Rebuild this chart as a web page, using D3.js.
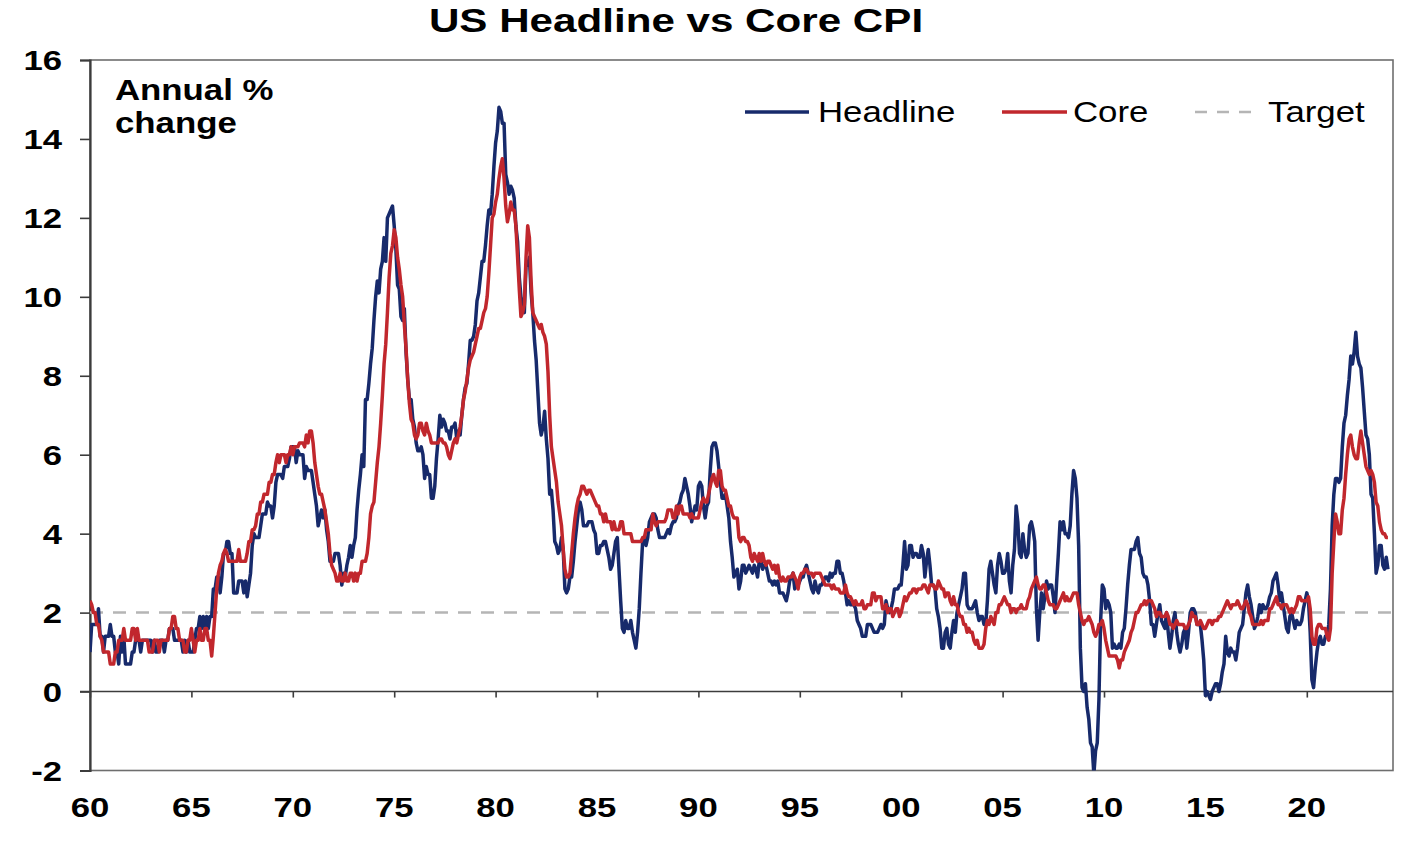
<!DOCTYPE html>
<html>
<head>
<meta charset="utf-8">
<script src="https://cdn.jsdelivr.net/npm/d3@7"></script>
<style>
  html, body { margin: 0; padding: 0; background: #ffffff; }
  svg { display: block; font-family: "Liberation Sans", Arial, sans-serif; }
</style>
</head>
<body>
<svg id="chart" width="1414" height="842"></svg>
<script>
// ---------------- DATA ----------------
const startYear = 1960; // monthly observations from Jan 1960
const chartTitle = "US Headline vs Core CPI";
const unitLabel = ["Annual %", "change"];
const seriesNames = ["Headline", "Core", "Target"];

const headline = [
 1.0,1.7,1.7,1.7,1.7,2.1,1.4,1.4,1.0,1.4,1.4,1.4,
 1.7,1.4,1.4,1.0,1.0,0.7,1.4,1.0,1.4,0.7,0.7,0.7,
 0.7,1.0,1.0,1.3,1.3,1.3,1.0,1.3,1.3,1.3,1.3,1.3,
 1.3,1.0,1.3,1.0,1.0,1.3,1.3,1.3,1.0,1.3,1.3,1.6,
 1.6,1.6,1.3,1.3,1.3,1.3,1.3,1.0,1.3,1.0,1.3,1.0,
 1.0,1.0,1.3,1.6,1.6,1.9,1.6,1.9,1.6,1.9,1.6,1.9,
 1.9,2.6,2.6,2.9,2.9,2.5,2.9,3.5,3.5,3.8,3.8,3.5,
 3.5,2.5,2.5,2.5,2.8,2.8,2.8,2.5,2.8,2.4,2.7,3.0,
 3.7,4.0,3.9,3.9,3.9,4.2,4.5,4.5,4.5,4.8,4.7,4.7,
 4.4,4.7,5.3,5.5,5.5,5.5,5.4,5.7,5.7,5.7,5.9,6.2,
 6.2,6.2,5.8,6.1,6.0,6.0,6.0,5.4,5.7,5.6,5.6,5.6,
 5.3,5.0,4.7,4.2,4.4,4.6,4.4,4.6,4.1,3.8,3.3,3.3,
 3.3,3.5,3.5,3.5,3.2,2.7,3.0,2.9,3.2,3.4,3.7,3.4,
 3.7,3.9,4.6,5.1,5.5,6.0,5.7,7.4,7.4,7.8,8.3,8.7,
 9.4,10.0,10.4,10.1,10.7,10.9,11.5,10.9,12.0,12.1,12.2,12.3,
 11.8,11.2,10.3,10.2,9.5,9.4,9.7,8.6,7.9,7.4,7.4,6.9,
 6.7,6.3,6.1,6.1,6.2,6.0,5.4,5.7,5.5,5.5,4.9,4.9,
 5.2,5.9,6.4,7.0,6.7,6.9,6.8,6.6,6.6,6.4,6.7,6.7,
 6.8,6.4,6.6,6.5,7.0,7.4,7.7,7.8,8.3,8.9,8.9,9.0,
 9.3,9.9,10.1,10.5,10.9,10.9,11.3,11.8,12.2,12.1,12.6,13.3,
 13.9,14.2,14.8,14.7,14.4,14.4,13.1,12.9,12.6,12.8,12.7,12.5,
 11.8,11.4,10.5,10.0,9.8,9.6,10.8,10.8,11.0,10.1,9.6,8.9,
 8.4,7.6,6.8,6.5,6.7,7.1,6.4,5.9,5.0,5.1,4.6,3.8,
 3.7,3.5,3.6,3.9,3.6,2.6,2.5,2.6,2.9,2.9,3.3,3.8,
 4.2,4.6,4.8,4.6,4.2,4.2,4.2,4.3,4.3,4.3,4.1,4.0,
 3.5,3.5,3.7,3.7,3.8,3.8,3.6,3.4,3.1,3.2,3.5,3.8,
 3.9,3.1,2.3,1.6,1.5,1.8,1.6,1.6,1.8,1.5,1.3,1.1,
 1.5,2.1,3.0,3.8,3.9,3.7,3.9,4.3,4.4,4.5,4.5,4.4,
 4.1,3.9,3.9,3.9,3.9,4.0,4.1,4.0,4.2,4.3,4.3,4.4,
 4.7,4.8,5.0,5.1,5.4,5.2,5.0,4.7,4.3,4.5,4.7,4.6,
 5.2,5.3,5.2,4.7,4.4,4.7,4.8,5.6,6.2,6.3,6.3,6.1,
 5.7,5.3,4.9,4.9,5.0,4.7,4.4,3.8,3.4,2.9,3.0,3.1,
 2.6,2.8,3.2,3.2,3.0,3.1,3.2,3.1,3.0,3.2,3.1,2.9,
 3.3,3.3,3.1,3.2,3.2,3.0,2.8,2.8,2.7,2.8,2.7,2.8,
 2.5,2.5,2.5,2.4,2.3,2.5,2.8,2.9,3.0,2.6,2.7,2.7,
 2.8,2.9,2.9,3.1,3.2,3.0,2.8,2.6,2.5,2.8,2.6,2.5,
 2.7,2.7,2.8,2.9,2.9,2.8,3.0,2.9,3.0,3.0,3.3,3.3,
 3.0,3.0,2.8,2.5,2.2,2.3,2.2,2.2,2.2,2.1,1.8,1.7,
 1.6,1.4,1.4,1.4,1.7,1.7,1.7,1.6,1.5,1.5,1.5,1.6,
 1.7,1.6,1.7,2.3,2.1,2.0,2.1,2.3,2.6,2.6,2.6,2.7,
 2.7,3.2,3.8,3.1,3.2,3.7,3.7,3.4,3.5,3.5,3.4,3.4,
 3.7,3.5,2.9,3.3,3.6,3.2,2.7,2.7,2.6,2.1,1.9,1.6,
 1.1,1.1,1.5,1.6,1.2,1.1,1.5,1.8,1.5,2.0,2.2,2.4,
 2.6,3.0,3.0,2.2,2.1,2.1,2.1,2.2,2.3,2.0,1.8,1.9,
 1.9,1.7,1.7,2.3,3.1,3.3,3.0,2.7,2.5,3.2,3.5,3.3,
 3.0,3.0,3.1,3.5,2.8,2.5,3.2,3.6,4.7,4.3,3.5,3.4,
 4.0,3.6,3.4,3.5,4.2,4.3,4.1,3.8,2.1,1.3,2.0,2.5,
 2.1,2.4,2.8,2.6,2.7,2.7,2.4,2.0,2.8,3.5,4.3,4.1,
 4.3,4.0,4.0,3.9,4.2,5.0,5.6,5.4,4.9,3.7,1.1,0.1,
 0.0,0.2,-0.4,-0.7,-1.3,-1.4,-2.1,-1.5,-1.3,-0.2,1.8,2.7,
 2.6,2.1,2.3,2.2,2.0,1.1,1.2,1.1,1.1,1.2,1.1,1.5,
 1.6,2.1,2.7,3.2,3.6,3.6,3.6,3.8,3.9,3.5,3.4,3.0,
 2.9,2.9,2.7,2.3,1.7,1.7,1.4,1.7,2.0,2.2,1.8,1.7,
 1.6,2.0,1.5,1.1,1.4,1.8,2.0,1.5,1.2,1.0,1.2,1.5,
 1.6,1.1,1.5,2.0,2.1,2.1,2.0,1.7,1.7,1.7,1.3,0.8,
 -0.1,0.0,-0.1,-0.2,0.0,0.1,0.2,0.2,0.0,0.2,0.5,0.7,
 1.4,1.0,0.9,1.1,1.0,1.0,0.8,1.1,1.5,1.6,1.7,2.1,
 2.5,2.7,2.4,2.2,1.9,1.6,1.7,1.9,2.2,2.0,2.2,2.1,
 2.1,2.2,2.4,2.5,2.8,2.9,3.0,2.7,2.3,2.5,2.2,1.9,
 1.6,1.5,1.9,2.0,1.8,1.6,1.8,1.7,1.7,1.8,2.1,2.3,
 2.5,2.3,1.5,0.3,0.1,0.6,1.0,1.3,1.4,1.2,1.2,1.4,
 1.4,1.7,2.6,4.2,5.0,5.4,5.4,5.3,5.4,6.2,6.8,7.0,
 7.5,7.9,8.5,8.3,8.6,9.1,8.5,8.3,8.2,7.7,7.1,6.5,
 6.4,6.0,5.0,4.9,4.0,3.0,3.2,3.7,3.7,3.2,3.1,3.4,
 3.1
];

const core = [
 2.3,2.2,2.0,2.0,1.7,1.7,1.4,1.3,1.0,1.0,1.0,1.0,
 0.7,0.7,0.7,1.0,1.0,1.3,1.3,1.3,1.6,1.3,1.3,1.3,
 1.3,1.6,1.6,1.3,1.6,1.3,1.3,1.3,1.3,1.3,1.3,1.0,
 1.0,1.0,1.3,1.3,1.3,1.0,1.3,1.3,1.3,1.3,1.3,1.6,
 1.6,1.9,1.9,1.6,1.6,1.3,1.3,1.3,1.0,1.0,1.3,1.3,
 1.6,1.3,1.0,1.3,1.3,1.6,1.3,1.3,1.6,1.6,1.3,1.3,
 0.9,1.4,2.0,2.6,3.0,3.2,3.3,3.5,3.6,3.5,3.3,3.3,
 3.3,3.3,3.3,3.3,3.6,3.3,3.3,3.3,3.3,3.5,3.8,3.8,
 4.1,4.1,4.2,4.5,4.5,4.8,4.8,5.0,5.0,5.0,5.3,5.3,
 5.5,5.5,5.8,6.0,5.8,6.0,6.0,6.0,5.8,6.0,6.0,6.2,
 6.0,6.2,6.2,6.2,6.3,6.3,6.3,6.2,6.5,6.3,6.6,6.6,
 6.3,5.8,5.5,5.2,5.0,5.0,4.8,4.6,4.3,4.0,3.5,3.2,
 3.1,3.0,2.8,2.8,3.0,2.8,2.8,3.0,2.8,2.8,3.0,3.0,
 2.8,3.0,2.8,3.0,3.0,3.3,3.3,3.3,3.5,3.9,4.5,4.7,
 4.8,5.3,5.8,6.2,6.8,7.5,8.3,8.8,9.6,10.5,11.1,11.3,
 11.7,11.5,11.0,10.7,10.3,10.0,9.3,8.7,7.9,7.3,6.9,6.8,
 6.5,6.4,6.5,6.8,6.8,6.6,6.5,6.8,6.6,6.5,6.3,6.3,
 6.3,6.3,6.3,6.4,6.4,6.3,6.3,6.2,6.0,5.9,6.1,6.3,
 6.4,6.3,6.5,6.7,7.0,7.4,7.6,7.9,8.2,8.4,8.5,8.6,
 8.8,9.0,9.2,9.2,9.4,9.6,9.7,10.0,10.6,11.3,12.0,12.1,
 12.4,12.6,13.0,13.3,13.5,13.0,12.3,11.9,12.1,12.4,12.2,12.2,
 11.8,11.0,10.2,9.5,9.6,9.8,11.0,11.8,11.5,10.4,9.6,9.5,
 9.4,9.3,9.2,9.3,9.1,9.0,8.8,8.1,7.0,6.2,5.9,5.6,
 5.3,4.8,4.5,4.2,3.6,3.1,2.9,2.9,3.0,3.5,4.0,4.4,
 4.7,4.9,5.0,5.2,5.2,5.1,5.0,5.1,5.1,5.0,4.9,4.8,
 4.7,4.7,4.5,4.5,4.3,4.5,4.3,4.3,4.3,4.1,4.3,4.1,
 4.1,4.1,4.3,4.3,4.0,4.0,4.0,4.0,4.0,3.8,3.8,3.8,
 3.8,3.8,3.8,3.9,3.9,4.1,4.1,4.1,4.1,4.5,4.3,4.2,
 4.3,4.3,4.3,4.3,4.3,4.4,4.6,4.6,4.6,4.4,4.4,4.7,
 4.5,4.7,4.7,4.5,4.5,4.5,4.5,4.4,4.5,4.4,4.4,4.4,
 4.4,4.6,4.8,4.9,4.8,4.8,5.0,5.2,5.4,5.5,5.3,5.2,
 5.6,5.6,5.2,5.1,5.1,4.9,4.7,4.7,4.5,4.4,4.4,4.4,
 3.9,3.8,3.9,3.9,3.8,3.8,3.7,3.4,3.3,3.5,3.4,3.3,
 3.5,3.3,3.5,3.3,3.2,3.3,3.3,3.2,3.1,3.2,3.0,3.2,
 2.9,2.8,2.9,2.8,2.8,2.9,2.9,2.9,3.0,2.9,2.8,2.6,
 2.9,3.0,3.0,3.1,3.1,3.0,3.0,3.0,2.9,3.0,3.0,3.0,
 3.0,2.9,2.8,2.7,2.7,2.7,2.7,2.6,2.7,2.6,2.6,2.6,
 2.5,2.5,2.5,2.7,2.5,2.4,2.4,2.3,2.2,2.3,2.2,2.2,
 2.2,2.3,2.1,2.1,2.2,2.2,2.2,2.5,2.5,2.3,2.4,2.4,
 2.4,2.1,2.1,2.2,2.0,2.1,2.1,1.9,2.0,2.1,2.1,1.9,
 2.0,2.2,2.4,2.3,2.4,2.5,2.5,2.6,2.6,2.5,2.6,2.6,
 2.6,2.7,2.7,2.6,2.5,2.7,2.7,2.7,2.6,2.6,2.8,2.7,
 2.6,2.6,2.4,2.5,2.5,2.3,2.2,2.4,2.2,2.2,2.0,1.9,
 1.9,1.7,1.7,1.5,1.6,1.5,1.5,1.3,1.2,1.3,1.1,1.1,
 1.1,1.2,1.6,1.8,1.7,1.9,1.8,1.7,2.0,2.0,2.2,2.2,
 2.3,2.4,2.3,2.2,2.2,2.0,2.1,2.1,2.0,2.1,2.1,2.2,
 2.1,2.1,2.1,2.3,2.4,2.6,2.7,2.8,2.9,2.7,2.6,2.6,
 2.7,2.7,2.5,2.3,2.2,2.2,2.2,2.1,2.1,2.2,2.3,2.4,
 2.5,2.3,2.4,2.3,2.3,2.4,2.5,2.5,2.5,2.2,2.0,1.8,
 1.7,1.8,1.8,1.9,1.8,1.7,1.5,1.4,1.5,1.7,1.7,1.8,
 1.6,1.3,1.1,0.9,0.9,0.9,0.9,0.9,0.8,0.6,0.8,0.8,
 1.0,1.1,1.2,1.3,1.5,1.6,1.8,2.0,2.0,2.1,2.2,2.2,
 2.3,2.2,2.3,2.3,2.3,2.2,2.1,1.9,2.0,2.0,1.9,1.9,
 1.9,2.0,1.9,1.7,1.7,1.6,1.7,1.8,1.7,1.7,1.7,1.7,
 1.6,1.6,1.7,1.8,2.0,1.9,1.9,1.7,1.7,1.8,1.7,1.6,
 1.6,1.7,1.8,1.8,1.7,1.8,1.8,1.8,1.9,1.9,2.0,2.1,
 2.2,2.3,2.2,2.1,2.2,2.2,2.2,2.3,2.2,2.1,2.1,2.2,
 2.3,2.2,2.0,1.9,1.7,1.7,1.7,1.7,1.7,1.8,1.7,1.8,
 1.8,1.8,2.1,2.1,2.2,2.3,2.4,2.2,2.2,2.1,2.2,2.2,
 2.2,2.1,2.0,2.1,2.0,2.1,2.2,2.4,2.4,2.3,2.3,2.3,
 2.3,2.4,2.1,1.4,1.2,1.2,1.6,1.7,1.7,1.6,1.6,1.6,
 1.4,1.3,1.6,3.0,3.8,4.5,4.3,4.0,4.0,4.6,4.9,5.5,
 6.0,6.4,6.5,6.2,6.0,5.9,5.9,6.3,6.6,6.3,6.0,5.7,
 5.6,5.5,5.6,5.5,5.3,4.8,4.7,4.3,4.1,4.0,4.0,3.9,
 3.9
];

const targetValue = 2;
const yTickValues = [-2, 0, 2, 4, 6, 8, 10, 12, 14, 16];
const xTickYears = [1960, 1965, 1970, 1975, 1980, 1985, 1990, 1995, 2000, 2005, 2010, 2015, 2020];
const xTickLabels = ["60", "65", "70", "75", "80", "85", "90", "95", "00", "05", "10", "15", "20"];

// ---------------- LAYOUT ----------------
const W = 1414, H = 842;
const plot = { left: 90, right: 1393, top: 60, bottom: 770.5 };
const colors = { headline: "#172a6b", core: "#c1272d", target: "#b5b5b5", frame: "#6e6e6e", axis: "#3c3c3c" };
const stretch = 1.2; // horizontal stretch of the lettering

const svg = d3.select("#chart");
svg.append("rect").attr("width", W).attr("height", H).attr("fill", "#fff");

const x = d3.scaleLinear().domain([1960, 2024.25]).range([plot.left, plot.right]);
const y = d3.scaleLinear().domain([-2, 16]).range([plot.bottom, plot.top]);

function addText(g, tx, ty, str, size, weight, anchor, sx) {
  return g.append("text")
    .attr("transform", `translate(${tx},${ty}) scale(${sx || stretch},1)`)
    .attr("text-anchor", anchor || "start")
    .attr("font-size", size)
    .attr("font-weight", weight || "normal")
    .attr("fill", "#000")
    .text(str);
}

// Title
addText(svg, 676, 32, chartTitle, 34, "bold", "middle", 1.24);

// Frame (top, right, bottom)
svg.append("rect")
  .attr("x", plot.left).attr("y", plot.top)
  .attr("width", plot.right - plot.left).attr("height", plot.bottom - plot.top)
  .attr("fill", "none").attr("stroke", colors.frame).attr("stroke-width", 1.6);

// Y axis
const yAxis = d3.axisLeft(y).tickValues(yTickValues).tickSize(10).tickFormat("");
const yg = svg.append("g").attr("transform", `translate(${plot.left},0)`).call(yAxis);
yg.select(".domain").attr("stroke", colors.axis).attr("stroke-width", 2.2);
yg.selectAll(".tick line").attr("stroke", colors.axis).attr("stroke-width", 1.6);
yTickValues.forEach(v => {
  addText(svg, plot.left - 28, y(v) + 10, String(v), 28, "bold", "end", 1.24);
});

// zero line with x ticks
const xAxis = d3.axisBottom(x).tickValues(xTickYears).tickSize(6).tickFormat("");
const xg = svg.append("g").attr("transform", `translate(0,${y(0)})`).call(xAxis);
xg.select(".domain").remove();
xg.selectAll(".tick line").attr("stroke", colors.axis).attr("stroke-width", 1.6);
svg.append("line")
  .attr("x1", plot.left - 10).attr("x2", plot.right)
  .attr("y1", y(0)).attr("y2", y(0))
  .attr("stroke", colors.axis).attr("stroke-width", 1.6);
xTickYears.forEach((yr, i) => {
  addText(svg, x(yr), 817, xTickLabels[i], 28, "bold", "middle", 1.24);
});

// Clip
svg.append("clipPath").attr("id", "clip")
  .append("rect").attr("x", plot.left).attr("y", plot.top)
  .attr("width", plot.right - plot.left).attr("height", plot.bottom - plot.top);
const pg = svg.append("g").attr("clip-path", "url(#clip)");

// Target line
pg.append("line")
  .attr("x1", x(1960)).attr("x2", x(2024.25))
  .attr("y1", y(targetValue)).attr("y2", y(targetValue))
  .attr("stroke", colors.target).attr("stroke-width", 2.5)
  .attr("stroke-dasharray", "13,10");

const line = d3.line()
  .x((d, i) => x(startYear + i / 12))
  .y(d => y(d));

pg.append("path").datum(headline)
  .attr("d", line).attr("fill", "none")
  .attr("stroke", colors.headline).attr("stroke-width", 3.5)
  .attr("stroke-linejoin", "round");

pg.append("path").datum(core)
  .attr("d", line).attr("fill", "none")
  .attr("stroke", colors.core).attr("stroke-width", 3.5)
  .attr("stroke-linejoin", "round");

// Unit label
addText(svg, 115, 100, unitLabel[0], 29, "bold", "start");
addText(svg, 115, 133, unitLabel[1], 29, "bold", "start");

// Legend
const lg = svg.append("g");
const legY = 112;
lg.append("line").attr("x1", 745).attr("x2", 809).attr("y1", legY).attr("y2", legY)
  .attr("stroke", colors.headline).attr("stroke-width", 3.5);
addText(lg, 818, legY + 10, seriesNames[0], 29, "normal", "start");
lg.append("line").attr("x1", 1002).attr("x2", 1067).attr("y1", legY).attr("y2", legY)
  .attr("stroke", colors.core).attr("stroke-width", 3.5);
addText(lg, 1073, legY + 10, seriesNames[1], 29, "normal", "start");
lg.append("line").attr("x1", 1195).attr("x2", 1253).attr("y1", legY).attr("y2", legY)
  .attr("stroke", colors.target).attr("stroke-width", 2.5).attr("stroke-dasharray", "12,10");
addText(lg, 1268, legY + 10, seriesNames[2], 29, "normal", "start");
</script>
</body>
</html>
